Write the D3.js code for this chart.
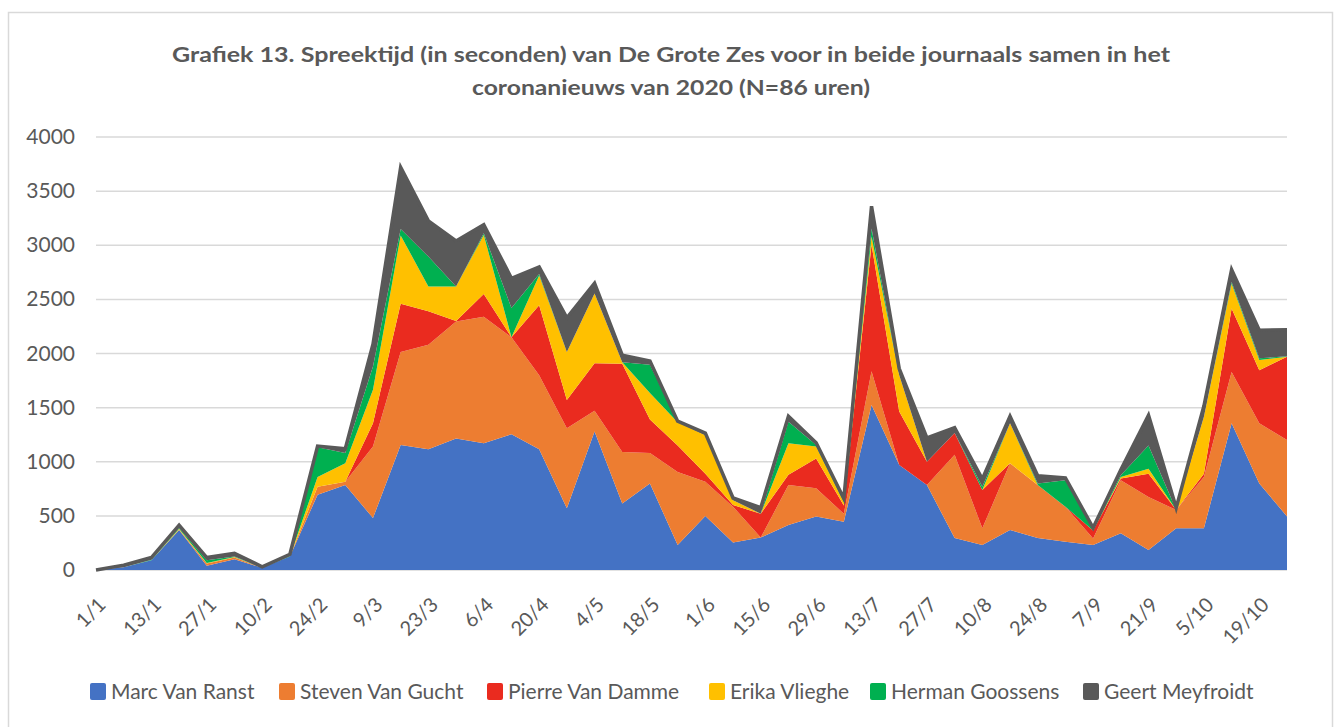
<!DOCTYPE html>
<html>
<head>
<meta charset="utf-8">
<script src="https://cdn.jsdelivr.net/npm/d3@7"></script>
<style>
  html, body { margin: 0; padding: 0; background: #fff; }
  svg { display: block; }
  text { font-family: Lato, "Open Sans", sans-serif; fill: #595959; }
</style>
</head>
<body>
<svg id="chart" width="1335" height="727"></svg>
<script>
const dates = ["1/1","6/1","13/1","20/1","27/1","3/2","10/2","17/2","24/2","2/3","9/3","16/3","23/3","30/3","6/4","13/4","20/4","27/4","4/5","11/5","18/5","25/5","1/6","8/6","15/6","22/6","29/6","6/7","13/7","20/7","27/7","3/8","10/8","17/8","24/8","31/8","7/9","14/9","21/9","28/9","5/10","12/10","19/10","26/10"];
const tickLabels = ["1/1","13/1","27/1","10/2","24/2","9/3","23/3","6/4","20/4","4/5","18/5","1/6","15/6","29/6","13/7","27/7","10/8","24/8","7/9","21/9","5/10","19/10"];
const yTicks = [0,500,1000,1500,2000,2500,3000,3500,4000];

const marcVanRanst     = [0,25,90,370,40,100,20,125,695,785,480,1155,1115,1215,1170,1255,1115,570,1280,615,800,230,500,255,300,415,495,445,1525,970,785,295,230,370,295,260,230,340,185,385,385,1355,800,495];
const stevenVanGucht   = [0,0,0,5,20,15,0,0,75,30,660,860,965,1080,1170,895,685,740,190,475,280,675,315,330,0,370,260,75,310,0,0,770,155,615,490,325,60,490,490,170,475,475,555,705];
const pierreVanDamme   = [0,0,0,0,0,0,0,0,0,0,215,445,310,5,210,0,645,260,440,815,310,245,75,15,220,95,275,75,1170,495,215,200,355,0,0,0,75,15,215,0,30,585,490,770];
const erikaVlieghe     = [0,0,0,5,5,5,0,0,90,170,310,630,230,320,545,0,275,445,645,15,245,215,355,45,0,290,110,30,75,335,0,0,0,370,0,0,0,15,45,0,525,230,95,0];
const hermanGoossens   = [0,0,5,10,25,5,0,5,275,95,215,60,275,0,15,270,15,0,0,0,260,0,0,0,0,200,15,20,75,0,0,0,30,0,15,245,15,15,215,0,0,15,15,5];
const geertMeyfroidt   = [0,20,20,25,25,30,10,15,10,40,205,570,330,420,80,275,65,315,95,65,35,10,20,20,55,50,20,15,205,60,220,50,70,65,70,20,10,50,280,20,100,115,260,245];

const seriesNames = ["Marc Van Ranst","Steven Van Gucht","Pierre Van Damme","Erika Vlieghe","Herman Goossens","Geert Meyfroidt"];
const seriesValues = [marcVanRanst, stevenVanGucht, pierreVanDamme, erikaVlieghe, hermanGoossens, geertMeyfroidt];
const colors = ["#4472C4","#ED7D31","#EA2B1F","#FFC000","#00B050","#595959"];

const table = dates.map((d, i) => {
  const row = { date: d };
  seriesNames.forEach((n, k) => row[n] = seriesValues[k][i]);
  return row;
});

const svg = d3.select("#chart");

// chart frame
svg.append("rect").attr("x", 8.5).attr("y", 12.5).attr("width", 1324).attr("height", 800)
  .attr("fill", "#fff").attr("stroke", "#d9d9d9").attr("stroke-width", 1.5);

const x = d3.scalePoint().domain(dates).range([96, 1287]);
const y = d3.scaleLinear().domain([0, 4000]).range([570, 137]);

// gridlines
svg.append("g").selectAll("line").data(yTicks).join("line")
  .attr("x1", 96).attr("x2", 1287)
  .attr("y1", d => y(d)).attr("y2", d => y(d))
  .attr("stroke", "#d9d9d9").attr("stroke-width", 1.5);

// y tick labels
svg.append("g").selectAll("text").data(yTicks).join("text")
  .attr("x", 75).attr("y", d => y(d) + 7)
  .attr("text-anchor", "end").attr("font-size", 21)
  .text(d => d);

const stack = d3.stack().keys(seriesNames);
const layers = stack(table);

const area = d3.area()
  .x(d => x(d.data.date))
  .y0(d => y(d[0]))
  .y1(d => y(d[1]));

svg.append("g").selectAll("path").data(layers).join("path")
  .attr("d", area)
  .attr("fill", (d, i) => colors[i]);

// outline of top series
const topLine = d3.line().x(d => x(d.data.date)).y(d => y(d[1]));
svg.append("path").datum(layers[layers.length - 1])
  .attr("d", topLine).attr("fill", "none")
  .attr("stroke", "#595959").attr("stroke-width", 3.5).attr("stroke-linejoin", "miter");

// x tick labels
svg.append("g").selectAll("text").data(tickLabels).join("text")
  .attr("transform", d => `translate(${x(d) + 11},${606}) rotate(-45)`)
  .attr("text-anchor", "end").attr("font-size", 20)
  .text(d => d);

// title
const title = svg.append("g");
title.append("text").attr("x", 671).attr("y", 62).attr("text-anchor", "middle")
  .attr("font-size", 21).attr("font-weight", "bold")
  .attr("textLength", 998).attr("lengthAdjust", "spacingAndGlyphs")
  .text("Grafiek 13. Spreektijd (in seconden) van De Grote Zes voor in beide journaals samen in het");
title.append("text").attr("x", 671).attr("y", 95).attr("text-anchor", "middle")
  .attr("font-size", 21).attr("font-weight", "bold")
  .attr("textLength", 398).attr("lengthAdjust", "spacingAndGlyphs")
  .text("coronanieuws van 2020 (N=86 uren)");

// legend
const legendX = [90, 279, 487, 709, 870, 1083];
const legend = svg.append("g").selectAll("g").data(seriesNames).join("g")
  .attr("transform", (d, i) => `translate(${legendX[i]},683)`);
legend.append("rect").attr("width", 16).attr("height", 17).attr("rx", 2)
  .attr("fill", (d, i) => colors[i]);
legend.append("text").attr("x", 21).attr("y", 16).attr("font-size", 21).text(d => d);
</script>
</body>
</html>
